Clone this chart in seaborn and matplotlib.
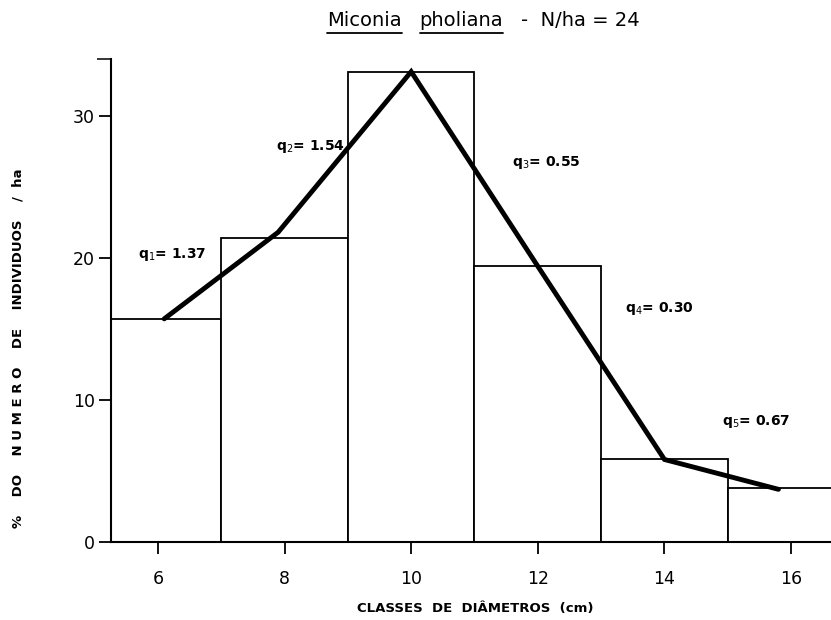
import numpy as np
import pandas as pd
import matplotlib
matplotlib.use("Agg")
import matplotlib.pyplot as plt
from matplotlib.lines import Line2D
import seaborn as sns

# diameter classes (cm) and % of individuals per ha
class_centers = [6, 8, 10, 12, 14, 16]
class_edges = [5, 7, 9, 11, 13, 15, 17]
pct_individuals = [15.7, 21.4, 33.1, 19.4, 5.8, 3.8]

# polygon drawn over the histogram
poly_x = [6.1, 7.9, 10.0, 12.0, 14.0, 15.8]
poly_y = [15.7, 21.8, 33.1, 19.4, 5.8, 3.7]

# q ratios between classes
q_names = ["q$_1$", "q$_2$", "q$_3$", "q$_4$", "q$_5$"]
q_values = ["1.37", "1.54", "0.55", "0.30", "0.67"]
q_pos_x = [5.68, 7.86, 11.6, 13.38, 14.91]
q_pos_y = [20.2, 27.8, 26.7, 16.4, 8.5]

x_ticks = [6, 8, 10, 12, 14, 16]
y_ticks = [0, 10, 20, 30]

sns.set_style("ticks")
plt.rcParams['font.family'] = ['DejaVu Sans']
plt.rcParams['text.color'] = 'black'
plt.rcParams['axes.labelcolor'] = 'black'

fig = plt.figure(figsize=(8.31, 6.2), dpi=100)
ax = fig.add_axes([0.1336, 0.126, 0.8664, 0.779])

df = pd.DataFrame({'classe': class_centers, 'pct': pct_individuals})
sns.histplot(data=df, x='classe', weights='pct', bins=class_edges,
             color='white', edgecolor='black', linewidth=1.3, alpha=1, ax=ax)

sns.lineplot(x=poly_x, y=poly_y, sort=False, color='black', linewidth=3.5,
             ax=ax, solid_joinstyle='miter')

for name, val, qx, qy in zip(q_names, q_values, q_pos_x, q_pos_y):
    ax.text(qx, qy, f"{name}= {val}", fontsize=10, fontweight='bold',
            ha='left', va='center')

ax.set_xlim(5.26, 16.63)
ax.set_ylim(0, 34)
ax.set_xticks(x_ticks)
ax.set_yticks(y_ticks)
ax.set_yticks([34], minor=True)
ax.tick_params(axis='both', direction='out', length=8.6, width=1.3,
               labelsize=12.5, colors='black')
ax.tick_params(axis='x', pad=12)
ax.tick_params(axis='y', pad=3)
ax.tick_params(axis='y', which='minor', length=10, width=1.3)
for side in ['top', 'right']:
    ax.spines[side].set_visible(False)
for side in ['left', 'bottom']:
    ax.spines[side].set_linewidth(1.5)
    ax.spines[side].set_color('black')

ax.set_xlabel("CLASSES  DE  DIÂMETROS  (cm)", fontsize=9.5, fontweight='bold')
ax.xaxis.set_label_coords((475 - 111) / 720, -(609 - 542) / 483)
ax.xaxis.label.set_va('center')
ax.set_ylabel("%    DO    N U M E R O    DE    INDIVIDUOS    /  ha", fontsize=9.5,
              fontweight='bold')
ax.yaxis.set_label_coords(-(111 - 18) / 720, (542 - 348) / 483)
ax.yaxis.label.set_va('center')

# title with the species name underlined
renderer = fig.canvas.get_renderer()
x_px = 327
y_fig = 1 - 21 / 620
parts = [("Miconia", True), ("pholiana", True), ("-  N/ha = 24", False)]
for word, underline in parts:
    t = fig.text(x_px / 831, y_fig, word, fontsize=14, ha='left', va='center')
    bb = t.get_window_extent(renderer=renderer)
    if underline:
        y_line = 1 - 33 / 620
        fig.add_artist(Line2D([bb.x0 / 831, bb.x1 / 831], [y_line, y_line],
                              color='black', linewidth=1.3))
    x_px = bb.x1 + 18

fig.savefig("out.png", dpi=100)
